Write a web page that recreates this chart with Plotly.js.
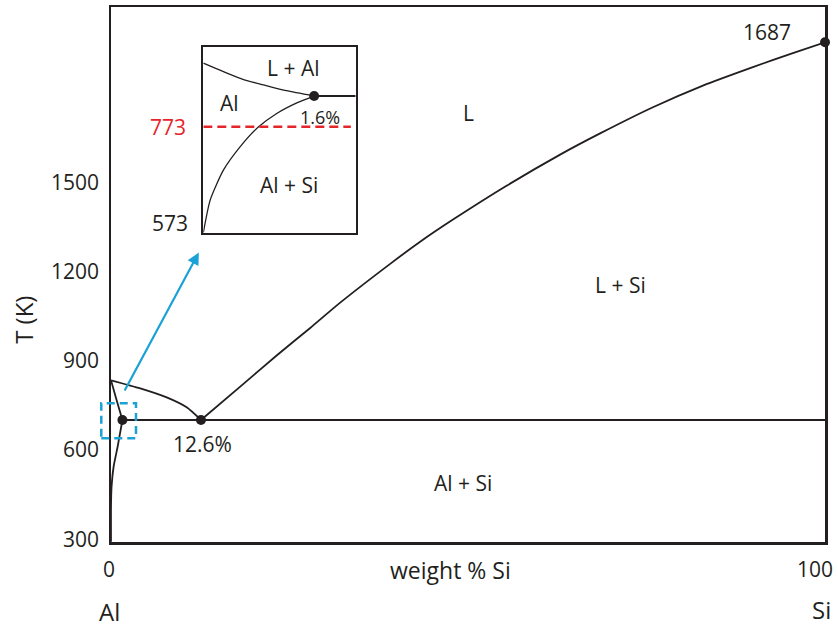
<!DOCTYPE html>
<html>
<head>
<meta charset="utf-8">
<script src="https://cdn.plot.ly/plotly-3.0.1.min.js"></script>
<style>
  html, body { margin: 0; padding: 0; background: #ffffff; }
  #chart { width: 838px; height: 628px; }
</style>
</head>
<body>
<div id="chart"></div>
<script>
// Al–Si binary phase diagram: composition in weight % Si, temperature in K.

// Liquidus on the Al-rich side (from the Al melting point down to the eutectic)
const liqAlX = [0, 4.1, 7.8, 10.6, 12.6];
const liqAlT = [938, 920, 900, 878, 850];

// Liquidus on the Si-rich side (eutectic up to the Si melting point)
const liqSiX = [12.6, 18.1, 23.2, 27.9, 32.1, 39.1, 43.3, 47.9, 55.4, 62.9, 68.5, 75.9, 82.9, 89.9, 95.5, 100];
const liqSiT = [850, 924, 993, 1054, 1110, 1196, 1245, 1294, 1369, 1438, 1485, 1543, 1591, 1632, 1663, 1687];

// Solidus of the Al solid solution
const solidusX = [0, 0.8, 1.6];
const solidusT = [938, 893, 850];

// Solvus of the Al solid solution
const solvusX = [1.6, 0.93, 0.37, 0.08, 0, 0];
const solvusT = [850, 791, 747, 702, 657, 580];

// Eutectic isotherm
const eutecticX = [1.6, 100];
const eutecticT = [850, 850];

// Labelled invariant points
const pointX = [1.6, 12.6, 100];
const pointT = [850, 850, 1687];
const eutecticComp = 12.6;
const maxSolubility = 1.6;
const siMelt = 1687;

// Temperature labels along the left edge
const tempTicks = [300, 600, 900, 1200, 1500];
// Composition labels along the bottom edge, with the pure components beneath
const compTicks = [0, 100];
const components = ['Al', 'Si'];

// Magnified Al-rich corner
const insetSolidusX = [0, 0.29, 0.58, 0.87, 1.2, 1.6];
const insetSolidusT = [893, 877, 862, 852, 841, 831];
const insetSolvusX = [0, 0.1, 0.29, 0.53, 0.79, 1.06, 1.35, 1.6];
const insetSolvusT = [573, 635, 691, 735, 772, 798, 818, 831];
const insetEutecticX = [1.6, 2.2];
const insetEutecticT = [831, 831];
const insetPointX = [1.6];
const insetPointT = [831];
const anneal = 773;
const annealX = [0, 2.13];
const insetBottom = 573;

const INK = '#231f20';
const RED = '#e4262b';
const BLUE = '#1aa2d6';
const FONT = 'Open Sans, Noto Sans, sans-serif';

function curve(x, y, xa, ya, width, shape) {
  return {
    x: x, y: y, xaxis: xa, yaxis: ya, type: 'scatter', mode: 'lines',
    line: { color: INK, width: width, shape: shape || 'linear', smoothing: 0.6 },
    hoverinfo: 'skip', showlegend: false
  };
}

const data = [
  curve(liqAlX, liqAlT, 'x', 'y', 1.8, 'spline'),
  curve(liqSiX, liqSiT, 'x', 'y', 1.8, 'spline'),
  curve(solidusX, solidusT, 'x', 'y', 1.8, 'spline'),
  curve(solvusX, solvusT, 'x', 'y', 1.8, 'spline'),
  curve(eutecticX, eutecticT, 'x', 'y', 2),
  {
    x: pointX, y: pointT, type: 'scatter', mode: 'markers', cliponaxis: false,
    marker: { color: INK, size: 10 }, hoverinfo: 'skip', showlegend: false
  },
  // empty trace that attaches the temperature label scale to the plot
  { x: [], y: [], yaxis: 'y3', type: 'scatter', mode: 'lines', hoverinfo: 'skip', showlegend: false },
  curve(insetSolidusX, insetSolidusT, 'x2', 'y2', 1.3, 'spline'),
  curve(insetSolvusX, insetSolvusT, 'x2', 'y2', 1.3, 'spline'),
  curve(insetEutecticX, insetEutecticT, 'x2', 'y2', 2),
  {
    x: annealX, y: [anneal, anneal], xaxis: 'x2', yaxis: 'y2', type: 'scatter', mode: 'lines',
    line: { color: RED, width: 2.5, dash: '9px,5px' }, hoverinfo: 'skip', showlegend: false
  },
  {
    x: insetPointX, y: insetPointT, xaxis: 'x2', yaxis: 'y2', type: 'scatter', mode: 'markers',
    cliponaxis: false, marker: { color: INK, size: 10 }, hoverinfo: 'skip', showlegend: false
  }
];

function label(text, x, y, xref, yref, opts) {
  return Object.assign({
    text: text, x: x, y: y, xref: xref, yref: yref, showarrow: false,
    font: { family: FONT, size: 21, color: INK }, xanchor: 'center', yanchor: 'middle'
  }, opts || {});
}

const annotations = [
  label(String(siMelt), 100, siMelt, 'x', 'y', { xanchor: 'right', xshift: -32, yshift: 10 }),
  label(eutecticComp + '%', eutecticComp, 850, 'x', 'y', { xshift: 2, yshift: -24 }),
  label('L', 50, 1530, 'x', 'y'),
  label('L + Si', 71.3, 1149, 'x', 'y'),
  label('Al + Si', 49.3, 710, 'x', 'y'),
  label('L + Al', 1.3, 884, 'x2', 'y2'),
  label('Al', 0.385, 818, 'x2', 'y2'),
  label('Al + Si', 1.24, 663, 'x2', 'y2'),
  label(maxSolubility + '%', maxSolubility, 831, 'x2', 'y2',
        { xshift: 6, yshift: -21, font: { family: FONT, size: 18, color: INK } }),
  label(String(anneal), 0.108, anneal, 'paper', 'y2',
        { xanchor: 'right', font: { family: FONT, size: 21, color: RED } }),
  label(String(insetBottom), 0.110, insetBottom, 'paper', 'y2', { xanchor: 'right', yshift: 10 }),
  label('weight % Si', 0.476, -0.052, 'paper', 'paper', { font: { family: FONT, size: 23, color: INK } }),
  label(String(compTicks[0]), compTicks[0], -0.05, 'x', 'paper', { xshift: -2 }),
  label(String(compTicks[1]), compTicks[1], -0.05, 'x', 'paper', { xanchor: 'right', xshift: 10 }),
  label(components[0], compTicks[0], -0.129, 'x', 'paper', { xshift: -2, font: { family: FONT, size: 24, color: INK } }),
  label(components[1], compTicks[1], -0.127, 'x', 'paper', { xshift: -4, font: { family: FONT, size: 24, color: INK } }),
  label('T (K)', -0.122, 0.415, 'paper', 'paper', { textangle: -90, font: { family: FONT, size: 24, color: INK } }),
  {
    // pointer from the eutectic corner to the magnified view
    text: '', x: 12.3, y: 1221, ax: 1.8, ay: 912, xref: 'x', yref: 'y', axref: 'x', ayref: 'y',
    showarrow: true, arrowhead: 2, arrowsize: 1.1, arrowwidth: 2.2, arrowcolor: BLUE, standoff: 0
  }
];

const layout = {
  width: 838, height: 628,
  margin: { l: 111, r: 13, t: 7, b: 86 },
  paper_bgcolor: '#ffffff', plot_bgcolor: 'rgba(0,0,0,0)',
  font: { family: FONT, color: INK, size: 21 },
  showlegend: false, hovermode: false,
  xaxis: {
    range: [0, 100], showticklabels: false, ticks: '', showgrid: false, zeroline: false,
    showline: true, mirror: true, linecolor: INK, linewidth: 2.5
  },
  yaxis: {
    range: [579.7, 1765.1], showticklabels: false, ticks: '', showgrid: false, zeroline: false,
    showline: true, mirror: true, linecolor: INK, linewidth: 2.5
  },
  yaxis3: {
    overlaying: 'y', side: 'left', anchor: 'x', range: [291, 2089], autorange: false,
    tickmode: 'array', tickvals: tempTicks, ticks: '',
    showgrid: false, zeroline: false, showline: false,
    tickfont: { family: FONT, size: 21, color: INK }, ticklabelstandoff: 11
  },
  xaxis2: {
    domain: [0.1293, 0.3427], anchor: 'y2', range: [0, 2.2],
    showticklabels: false, ticks: '', showgrid: false, zeroline: false,
    showline: true, mirror: true, linecolor: INK, linewidth: 2
  },
  yaxis2: {
    domain: [0.5781, 0.9247], anchor: 'x2', range: [573, 923],
    showticklabels: false, ticks: '', showgrid: false, zeroline: false,
    showline: true, mirror: true, linecolor: INK, linewidth: 2
  },
  shapes: [
    {
      // dashed marker around the maximum-solubility point
      type: 'rect', xref: 'paper', yref: 'paper',
      x0: -0.0136, x1: 0.035, y0: 0.1938, y1: 0.2593,
      line: { color: BLUE, width: 2.5, dash: '8px,5px' }, fillcolor: 'rgba(0,0,0,0)'
    }
  ],
  annotations: annotations
};

Plotly.newPlot('chart', data, layout, { staticPlot: true, displayModeBar: false });
</script>
</body>
</html>
